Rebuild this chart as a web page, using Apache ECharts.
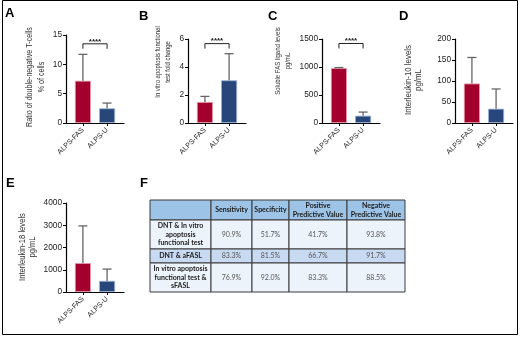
<!DOCTYPE html>
<html><head><meta charset="utf-8">
<script src="https://cdn.jsdelivr.net/npm/echarts@6/dist/echarts.min.js"></script>
<style>html,body{margin:0;padding:0;background:#fff}#c{width:520px;height:337px}</style>
</head><body><div id="c"></div>
<script>
// ---------- data ----------
const categories = ['ALPS-FAS', 'ALPS-U'];
const dntMean = [7.2, 2.5];
const dntErrTop = [11.7, 3.4];
const apoMean = [1.5, 3.05];
const apoErrTop = [1.9, 4.95];
const sfaslMean = [980, 130];
const sfaslErrTop = [990, 195];
const il10Mean = [94, 34];
const il10ErrTop = [156, 81];
const il18Mean = [1300, 500];
const il18ErrTop = [2970, 1030];
const sigText = '****';
const dntSigY = [13.5];
const apoSigY = [5.67];
const sfaslSigY = [1420];
const yTitles = {
  A: 'Ratio of double-negative T-cells\n% of cells',
  B: 'In vitro apoptosis functional\ntest fold change',
  C: 'Soluble FAS ligand levels\npg/mL',
  D: 'Interleukin-10 levels\npg/mL',
  E: 'Interleukin-18 levels\npg/mL'
};
const tableHeader = ['', 'Sensitivity', 'Specificity', 'Positive\nPredictive Value', 'Negative\nPredictive Value'];
const tableRowLabels = ['DNT & In vitro\napoptosis\nfunctional test', 'DNT & aFASL', 'In vitro apoptosis\nfunctional test &\nsFASL'];
const sensitivity = ['90.9%', '83.3%', '76.9%'];
const specificity = ['51.7%', '81.5%', '92.0%'];
const ppv = ['41.7%', '66.7%', '83.3%'];
const npv = ['93.8%', '91.7%', '88.5%'];

// ---------- layout / style ----------
const SANS = "'Liberation Sans',Arial,sans-serif";
const barColors = ['#A3002E', '#27467A'];
const barEdges = ['#E39AAA', '#9DB3D6'];
const panels = [
  {key:'A', grid:{left:66, top:35, width:58, height:88}, max:15, interval:5, mean:dntMean, err:dntErrTop, sig:dntSigY,
   title:{x:36, y:77, fs:8.7, lh:12}, letter:{x:5, y:7}},
  {key:'B', grid:{left:188, top:39, width:58, height:84}, max:6, interval:2, mean:apoMean, err:apoErrTop, sig:apoSigY,
   title:{x:163, y:62, fs:7.2, lh:10}, letter:{x:139, y:10}},
  {key:'C', grid:{left:322, top:39, width:58, height:84}, max:1500, interval:500, mean:sfaslMean, err:sfaslErrTop, sig:sfaslSigY,
   title:{x:283, y:61, fs:7.3, lh:10}, letter:{x:268, y:10}},
  {key:'D', grid:{left:455, top:39, width:58, height:84}, max:200, interval:50, mean:il10Mean, err:il10ErrTop, sig:null,
   title:{x:413.5, y:80, fs:9.6, lh:10}, letter:{x:399, y:10}},
  {key:'E', grid:{left:66, top:203, width:58, height:89}, max:4000, interval:1000, mean:il18Mean, err:il18ErrTop, sig:null,
   title:{x:27, y:247, fs:9.3, lh:10}, letter:{x:6, y:177}}
];
const tableGrid = {left:150, top:200, width:255, height:92};
const colWeights = [61, 41, 37, 58, 58];
const rowWeights = [20, 29, 14, 29];
const rowFills = ['#9DC3E6', '#EDF3FB', '#C8DAF1', '#EDF3FB'];

const chart = echarts.init(document.getElementById('c'), null, {renderer:'canvas'});

const grids = [], xAxes = [], yAxes = [], series = [], graphics = [];
// category k sits at x = k + 1 on the value axis
const catPos = categories.map((c, k) => k + 1);

panels.forEach((p, i) => {
  grids.push(Object.assign({containLabel:false}, p.grid));
  xAxes.push({
    type:'value', gridIndex:i, min:0.3, max:2.7,
    axisLine:{show:true, onZero:false, lineStyle:{color:'#000', width:1.2}},
    axisTick:{show:true, customValues:catPos, length:3, lineStyle:{color:'#000', width:1}},
    axisLabel:{show:true, customValues:catPos, rotate:45, margin:6, fontSize:7.2, fontFamily:SANS, color:'#222',
      formatter: v => categories[Math.round(v) - 1]},
    splitLine:{show:false}
  });
  yAxes.push({
    type:'value', gridIndex:i, min:0, max:p.max, interval:p.interval,
    axisLine:{show:true, lineStyle:{color:'#000', width:1.2}},
    axisTick:{show:true, length:3, lineStyle:{color:'#000', width:1}},
    axisLabel:{fontSize:8.3, fontFamily:SANS, color:'#222', margin:4, formatter: v => String(v)},
    splitLine:{show:false}
  });
  series.push({
    type:'bar', xAxisIndex:i, yAxisIndex:i, barWidth:16, z:2,
    data: p.mean.map((v, j) => ({value:[catPos[j], v], itemStyle:{color:barColors[j], borderColor:barEdges[j], borderWidth:0.8}})),
    silent:true, animation:false
  });
  series.push({
    type:'custom', xAxisIndex:i, yAxisIndex:i, z:3, animation:false, silent:true,
    data: p.mean.map((v, j) => [catPos[j], v, p.err[j]]),
    encode:{x:0, y:[1,2]},
    renderItem:(params, api) => {
      const a = api.coord([api.value(0), api.value(1)]);
      const b = api.coord([api.value(0), api.value(2)]);
      const st = {stroke:'#666', lineWidth:1.3};
      return {type:'group', children:[
        {type:'line', shape:{x1:a[0], y1:a[1], x2:b[0], y2:b[1]}, style:st},
        {type:'line', shape:{x1:b[0]-4.5, y1:b[1], x2:b[0]+4.5, y2:b[1]}, style:st}
      ]};
    }
  });
  if (p.sig) {
    series.push({
      type:'custom', xAxisIndex:i, yAxisIndex:i, z:3, animation:false, silent:true,
      data: p.sig.map(y => [catPos[0], catPos[1], y]),
      encode:{x:[0,1], y:2},
      renderItem:(params, api) => {
        const a = api.coord([api.value(0), api.value(2)]);
        const b = api.coord([api.value(1), api.value(2)]);
        return {type:'group', children:[
          {type:'polyline', shape:{points:[[a[0], a[1]+5], a, b, [b[0], b[1]+5]]}, style:{stroke:'#222', lineWidth:1, fill:null}},
          {type:'text', style:{x:(a[0]+b[0])/2, y:a[1]+1.5, text:sigText, textAlign:'center', textVerticalAlign:'bottom',
            font:'bold 8px ' + SANS, fill:'#222'}}
        ]};
      }
    });
  }
  graphics.push({type:'text', x:p.title.x, y:p.title.y, rotation:Math.PI/2, scaleX:0.82, silent:true,
    style:{text:yTitles[p.key], textAlign:'center', textVerticalAlign:'middle', font:p.title.fs + 'px ' + SANS,
      lineHeight:p.title.lh, fill:'#333'}});
  graphics.push({type:'text', left:p.letter.x, top:p.letter.y, silent:true,
    style:{text:p.key, font:'bold 13px ' + SANS, fill:'#000'}});
});

// table
const ti = panels.length;
grids.push(Object.assign({}, tableGrid));
xAxes.push({type:'value', gridIndex:ti, min:0, max:1, show:false});
yAxes.push({type:'value', gridIndex:ti, min:0, max:1, inverse:true, show:false});
const colSum = colWeights.reduce((s, v) => s + v, 0);
const rowSum = rowWeights.reduce((s, v) => s + v, 0);
const colEdges = colWeights.reduce((acc, w) => { acc.push(acc[acc.length-1] + w/colSum); return acc; }, [0]);
const rowEdges = rowWeights.reduce((acc, w) => { acc.push(acc[acc.length-1] + w/rowSum); return acc; }, [0]);
const cellData = [];
tableHeader.forEach((t, c) => cellData.push([c, 0, t]));
tableRowLabels.forEach((lab, r) => {
  cellData.push([0, r+1, lab]);
  cellData.push([1, r+1, sensitivity[r]]);
  cellData.push([2, r+1, specificity[r]]);
  cellData.push([3, r+1, ppv[r]]);
  cellData.push([4, r+1, npv[r]]);
});
series.push({
  type:'custom', xAxisIndex:ti, yAxisIndex:ti, animation:false, silent:true,
  data: cellData,
  renderItem:(params, api) => {
    const cell = cellData[params.dataIndex];
    const c = cell[0], r = cell[1], txt = cell[2];
    const p0 = api.coord([colEdges[c], rowEdges[r]]);
    const p1 = api.coord([colEdges[c+1], rowEdges[r+1]]);
    const bold = (r === 0 || c === 0);
    return {type:'group', children:[
      {type:'rect', shape:{x:p0[0], y:p0[1], width:p1[0]-p0[0], height:p1[1]-p0[1]},
        style:{fill:rowFills[r], stroke:'#3a3a3a', lineWidth:1}},
      {type:'text', style:{x:(p0[0]+p1[0])/2, y:(p0[1]+p1[1])/2, text:txt, textAlign:'center', textVerticalAlign:'middle',
        font:(bold ? 'bold ' : '') + '7px Lato, ' + SANS, lineHeight:8.5, fill: bold ? '#1a1a1a' : '#555'}}
    ]};
  }
});
graphics.push({type:'text', left:140, top:177, silent:true, style:{text:'F', font:'bold 13px ' + SANS, fill:'#000'}});
graphics.push({type:'rect', silent:true, shape:{x:2.5, y:0.5, width:515, height:334}, style:{fill:null, stroke:'#000', lineWidth:1}});

chart.setOption({
  animation:false,
  backgroundColor:'#fff',
  grid:grids, xAxis:xAxes, yAxis:yAxes, series:series, graphic:graphics
});
</script></body></html>
